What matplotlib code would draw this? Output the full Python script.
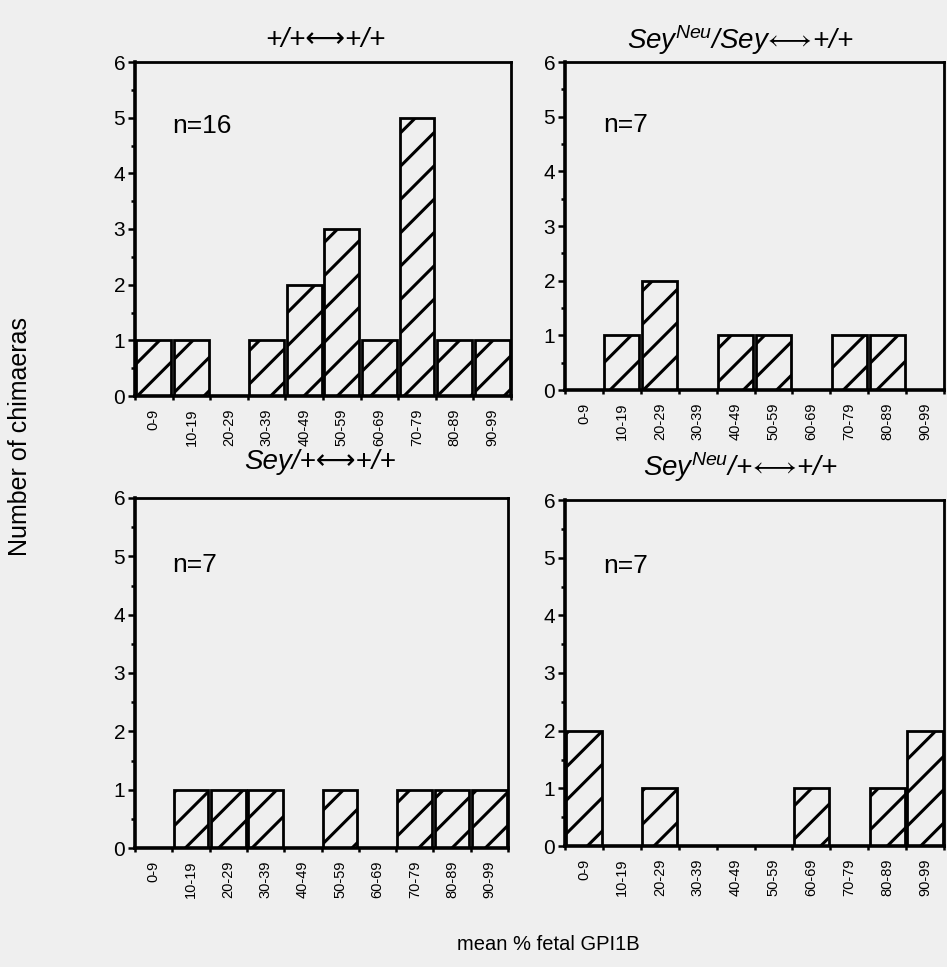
import matplotlib
matplotlib.use("Agg")
import matplotlib.pyplot as plt
import numpy as np

plt.rcParams['font.family'] = ['Liberation Sans', 'DejaVu Sans']
plt.rcParams['mathtext.fontset'] = 'custom'
plt.rcParams['mathtext.it'] = 'Liberation Sans:italic'
plt.rcParams['mathtext.rm'] = 'Liberation Sans'
plt.rcParams['mathtext.fallback'] = 'stixsans'
plt.rcParams['hatch.linewidth'] = 2.2

bins = ["0-9", "10-19", "20-29", "30-39", "40-49",
        "50-59", "60-69", "70-79", "80-89", "90-99"]

wt_wt = [1, 1, 0, 1, 2, 3, 1, 5, 1, 1]
neu_sey = [0, 1, 2, 0, 1, 1, 0, 1, 1, 0]
sey_wt = [0, 1, 1, 1, 0, 1, 0, 1, 1, 1]
neu_wt = [2, 0, 1, 0, 0, 0, 1, 0, 1, 2]

titles = [
    "+/+\u27f7+/+",
    r"Sey$^{Neu}$/Sey$\!\longleftrightarrow\!$+/+",
    "Sey/+\u27f7+/+",
    r"Sey$^{Neu}$/+$\!\longleftrightarrow\!$+/+",
]
n_labels = ["n=16", "n=7", "n=7", "n=7"]

bg = "#efefef"
W, H = 947, 967

fig = plt.figure(figsize=(W / 100, H / 100), dpi=100, facecolor=bg)

# axes boxes in pixels: left, right, top, bottom
boxes_px = [
    (135, 511, 62, 396),
    (565, 944, 62, 390),
    (135, 508, 498, 848),
    (565, 944, 500, 846),
]
# title centres in pixels
title_px = [(325, 40), (740, 40), (320, 462), (740, 467)]

x = np.arange(len(bins)) + 0.5

for data, title, nlab, (l, r, t, b), (tx, ty) in zip(
        [wt_wt, neu_sey, sey_wt, neu_wt], titles, n_labels, boxes_px, title_px):
    ax = fig.add_axes([l / W, 1 - b / H, (r - l) / W, (b - t) / H])
    ax.set_facecolor(bg)
    ax.bar(x, data, width=0.93, color=bg, edgecolor="black",
           linewidth=2.0, hatch="/")
    ax.set_xlim(0, 10)
    ax.set_ylim(0, 6)
    ax.set_yticks(range(0, 7))
    ax.set_yticks(np.arange(0.5, 6, 1), minor=True)
    ax.set_xticks(x)
    ax.set_xticklabels(bins, rotation=90, fontsize=10.5)
    ax.set_xticks(np.arange(0, 11), minor=True)
    ax.tick_params(axis="x", which="major", length=0, pad=9)
    ax.tick_params(axis="x", which="minor", length=3, width=1.8, direction="out")
    ax.tick_params(axis="y", which="major", length=5, width=1.8, labelsize=15, pad=2)
    ax.tick_params(axis="y", which="minor", length=3, width=1.8)
    for side in ["left", "bottom"]:
        ax.spines[side].set_linewidth(2.6)
    for side in ["top", "right"]:
        ax.spines[side].set_linewidth(2.0)
    ax.text(1.0, 4.85, nlab, fontsize=19, va="center", ha="left")
    fig.text(tx / W, 1 - ty / H, title, fontsize=20, style="italic",
             ha="center", va="center")

fig.text(20 / W, 1 - 437 / H, "Number of chimaeras", rotation=90, fontsize=18,
         ha="center", va="center")
fig.text(548 / W, 1 - 945 / H, "mean % fetal GPI1B", fontsize=14.5,
         ha="center", va="center")

fig.savefig("out.png", dpi=100, facecolor=bg)
